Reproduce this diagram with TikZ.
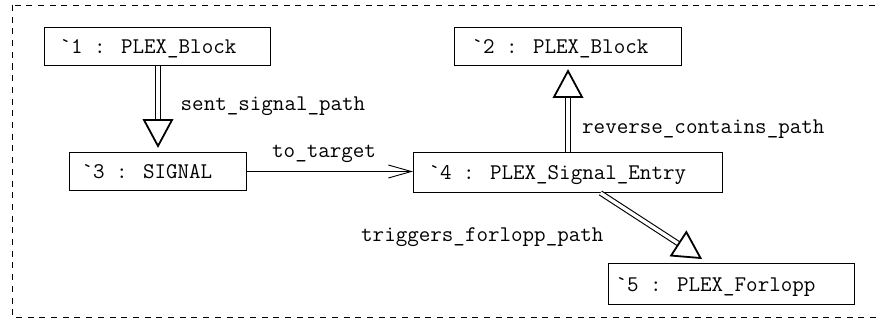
\documentclass[tikz,border=0pt]{standalone}
\usepackage{fontspec}
\usetikzlibrary{calc,arrows.meta}
\newcommand\hhead[2]{%
  \draw[headst] (#1) -- ($(#1)!26pt!(#2)!14pt!90:(#1)$) -- ($(#1)!26pt!(#2)!14pt!-90:(#1)$) -- cycle;}
\begin{document}
\begin{tikzpicture}[x=1pt,y=-1pt,
  font=\ttfamily\fontsize{22.4}{26}\selectfont,
  obj/.style={draw, line width=1pt, anchor=north west, align=flush left, inner ysep=0pt, text height=15pt, text depth=1pt},
  lbl/.style={anchor=base west, inner sep=0pt},
  dbl/.style={draw, line width=1.1pt, double=white, double distance=3.4pt},
  headst/.style={draw, line width=1.8pt, fill=white, line join=miter},
  frame/.style={draw, line width=0.9pt, dash pattern=on 6pt off 5.7pt},
  plain/.style={draw, line width=0.9pt}]
\useasboundingbox (0,0) rectangle (880,321);
\draw[frame] (12,5) rectangle (886,317);

\node[obj, minimum height=38pt, inner xsep=15pt, text width=196pt] (n1) at (44,27) {`1 : PLEX\_Block};
\node[obj, minimum height=38pt, inner xsep=17pt, text width=193pt] (n2) at (454,27) {`2 : PLEX\_Block};
\node[obj, minimum height=38pt, inner xsep=12pt, text width=153pt] (n3) at (69,152) {`3 : SIGNAL};
\node[obj, minimum height=40pt, inner xsep=15pt, text width=279pt] (n4) at (413,152) {`4 : PLEX\_Signal\_Entry};
\node[obj, minimum height=41pt, inner xsep=7pt, text width=232pt] (n5) at (608,263) {`5 : PLEX\_Forlopp};

% 1 -> 3
\coordinate (t13) at ($(n3.north)+(0,-6)$);
\draw[dbl] (t13 |- n1.south) -- ($(t13)!20pt!(t13 |- n1.south)$);
\hhead{t13}{t13 |- n1.south}

% 4 -> 2
\coordinate (t42) at ($(n2.south)+(0,5)$);
\draw[dbl] (t42 |- n4.north) -- ($(t42)!20pt!(t42 |- n4.north)$);
\hhead{t42}{t42 |- n4.north}

% 4 -> 5
\coordinate (s45) at ($(n4.south)+(32.5,0)$);
\coordinate (t45) at ($(n5.north)+(-31,-5)$);
\draw[dbl] (s45) -- ($(t45)!20pt!(s45)$);
\hhead{t45}{s45}

% 3 -> 4
\draw[plain, -{Straight Barb[length=23pt, width=13pt]}] (n3.east) -- (n3.east -| n4.west);

\node[lbl] (l13) at (180.5,110) {sent\_signal\_path};
\node[lbl] (l34) at (272,157) {to\_target};
\node[lbl] (l42) at (582,133) {reverse\_contains\_path};
\node[lbl] (l45) at (361,241) {triggers\_forlopp\_path};
\end{tikzpicture}
\end{document}
